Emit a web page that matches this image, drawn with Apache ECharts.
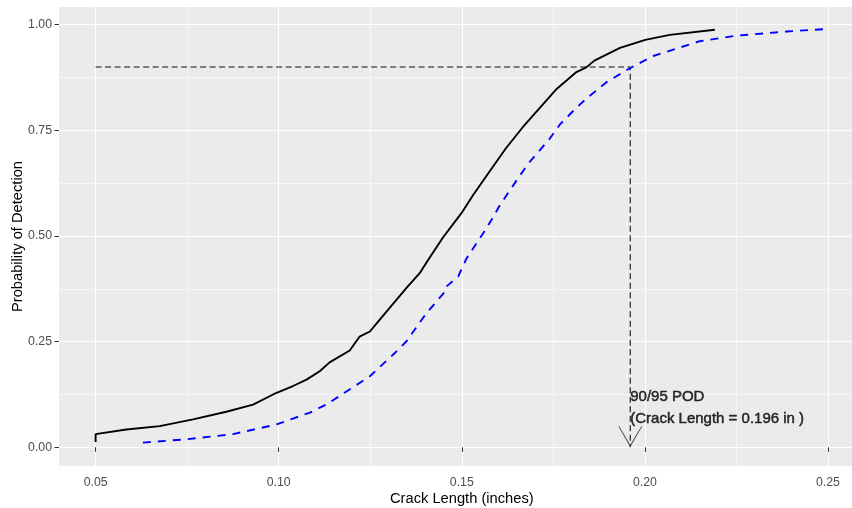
<!DOCTYPE html>
<html>
<head>
<meta charset="utf-8">
<script src="https://cdn.jsdelivr.net/npm/echarts@6/dist/echarts.min.js"></script>
<style>
  html, body { margin: 0; padding: 0; background: #fff; }
  #chart { width: 852px; height: 508px; }
</style>
</head>
<body>
<div id="chart"></div>
<script>
// POD curve (solid black)
const podCrack = [0.05, 0.05, 0.0584, 0.0675, 0.0766, 0.0857, 0.093, 0.0994, 0.1039, 0.1076,
  0.1112, 0.1139, 0.1194, 0.1221, 0.1249, 0.1276, 0.1349, 0.1385, 0.1408, 0.1449,
  0.1499, 0.1531, 0.1572, 0.162, 0.1667, 0.1727, 0.1759, 0.1813, 0.184, 0.1862,
  0.1932, 0.2001, 0.2068, 0.2191]
const podProb = [0.0125, 0.031, 0.042, 0.050, 0.066, 0.084, 0.101, 0.129, 0.145, 0.160,
  0.180, 0.201, 0.229, 0.262, 0.274, 0.302, 0.377, 0.412, 0.443, 0.497,
  0.554, 0.597, 0.648, 0.707, 0.758, 0.817, 0.848, 0.888, 0.899, 0.915,
  0.945, 0.964, 0.976, 0.988]

// 95% confidence bound (dashed blue)
const boundCrack = [0.0629, 0.0748, 0.0875, 0.0994, 0.1039, 0.1085, 0.113, 0.1208, 0.1249, 0.1317,
  0.1349, 0.1404, 0.1459, 0.146, 0.149, 0.1513, 0.1558, 0.1581, 0.1604, 0.165,
  0.1681, 0.174, 0.1768, 0.1809, 0.1836, 0.1895, 0.1959, 0.2023, 0.215, 0.225,
  0.2387, 0.25]
const boundProb = [0.011, 0.019, 0.031, 0.054, 0.068, 0.082, 0.101, 0.145, 0.168, 0.223,
  0.251, 0.318, 0.373, 0.382, 0.404, 0.447, 0.506, 0.538, 0.573, 0.632,
  0.671, 0.730, 0.764, 0.800, 0.822, 0.864, 0.897, 0.926, 0.961, 0.974,
  0.984, 0.990]

// 90/95 annotation
const refStart = 0.05
const podLevel = 0.90
const a9095 = 0.196
const labelY = 0.10

const xTicks = [0.05, 0.10, 0.15, 0.20, 0.25]
const xMinor = [0.075, 0.125, 0.175, 0.225]
const yTicks = [0, 0.25, 0.5, 0.75, 1]
const yMinor = [0.125, 0.375, 0.625, 0.875]

const FONT = '"Liberation Sans", Arial, sans-serif'
const zip = (xs, ys) => xs.map((x, i) => [x, ys[i]])

const chart = echarts.init(document.getElementById('chart'))

const baseX = { type: 'value', min: 0.04, max: 0.26, gridIndex: 0 }
const baseY = { type: 'value', min: -0.0443, max: 1.0419, gridIndex: 0 }

chart.setOption({
  animation: false,
  backgroundColor: '#fff',
  grid: {
    left: 59, right: -12.6, top: 7, bottom: 42,
    show: true, backgroundColor: '#EBEBEB', borderWidth: 0,
    containLabel: false, outerBoundsMode: 'none',
  },
  xAxis: [
    {
      ...baseX,
      name: 'Crack Length (inches)',
      nameLocation: 'middle',
      nameGap: 25,
      nameMoveOverlap: false,
      nameTextStyle: { fontFamily: FONT, fontSize: 14.7, color: '#000' },
      axisLine: { show: false },
      axisTick: { show: true, length: 4.5, lineStyle: { color: '#333', width: 1 }, customValues: xTicks },
      axisLabel: {
        customValues: xTicks, margin: 11, color: '#4D4D4D', fontFamily: FONT, fontSize: 12.3,
        formatter: v => v.toFixed(2),
      },
      splitLine: { show: true, lineStyle: { color: '#fff', width: 1.1 } },
    },
    {
      ...baseX,
      axisLine: { show: false },
      axisTick: { show: false, customValues: xMinor },
      axisLabel: { show: false, customValues: xMinor },
      splitLine: { show: true, lineStyle: { color: '#fff', width: 0.55 } },
    },
  ],
  yAxis: [
    {
      ...baseY,
      name: 'Probability of Detection',
      nameLocation: 'middle',
      nameGap: 34,
      nameMoveOverlap: false,
      nameTextStyle: { fontFamily: FONT, fontSize: 14.7, color: '#000' },
      axisLine: { show: false },
      axisTick: { show: true, length: 4.5, lineStyle: { color: '#333', width: 1 }, customValues: yTicks },
      axisLabel: {
        customValues: yTicks, margin: 7, color: '#4D4D4D', fontFamily: FONT, fontSize: 12.3,
        formatter: v => v.toFixed(2),
      },
      splitLine: { show: true, lineStyle: { color: '#fff', width: 1.1 } },
    },
    {
      ...baseY,
      axisLine: { show: false },
      axisTick: { show: false, customValues: yMinor },
      axisLabel: { show: false, customValues: yMinor },
      splitLine: { show: true, lineStyle: { color: '#fff', width: 0.55 } },
    },
  ],
  series: [
    {
      type: 'line',
      data: [[refStart, podLevel], [a9095, podLevel], [a9095, 0]],
      symbol: 'none', silent: true,
      lineStyle: { color: '#111', width: 1.1, type: [6, 3.5] },
      z: 3,
    },
    {
      type: 'scatter',
      data: [[a9095, 0]],
      symbol: 'path://M0,21 L-12,0 L-11,0 L0,18.5 L11,0 L12,0 Z',
      symbolSize: [24, 21],
      symbolOffset: [0, -10.5],
      itemStyle: { color: '#333' },
      silent: true,
      z: 3,
    },
    {
      type: 'line',
      data: zip(podCrack, podProb),
      symbol: 'none', silent: true,
      lineStyle: { color: '#000', width: 1.9 },
      z: 4,
    },
    {
      type: 'line',
      data: zip(boundCrack, boundProb),
      symbol: 'none', silent: true,
      lineStyle: { color: '#0000FF', width: 1.9, type: [8, 7] },
      z: 4,
    },
    {
      type: 'scatter',
      data: [[a9095, labelY]],
      symbolSize: 0,
      silent: true,
      label: {
        show: true,
        position: [0, 0],
        offset: [0, 3],
        align: 'left',
        verticalAlign: 'middle',
        formatter: '90/95 POD\n(Crack Length = ' + a9095.toFixed(3) + ' in )',
        fontFamily: FONT,
        fontSize: 15,
        lineHeight: 22,
        color: '#000',
        textBorderColor: '#000',
        textBorderWidth: 0.5,
      },
      z: 5,
    },
  ],
})
</script>
</body>
</html>
